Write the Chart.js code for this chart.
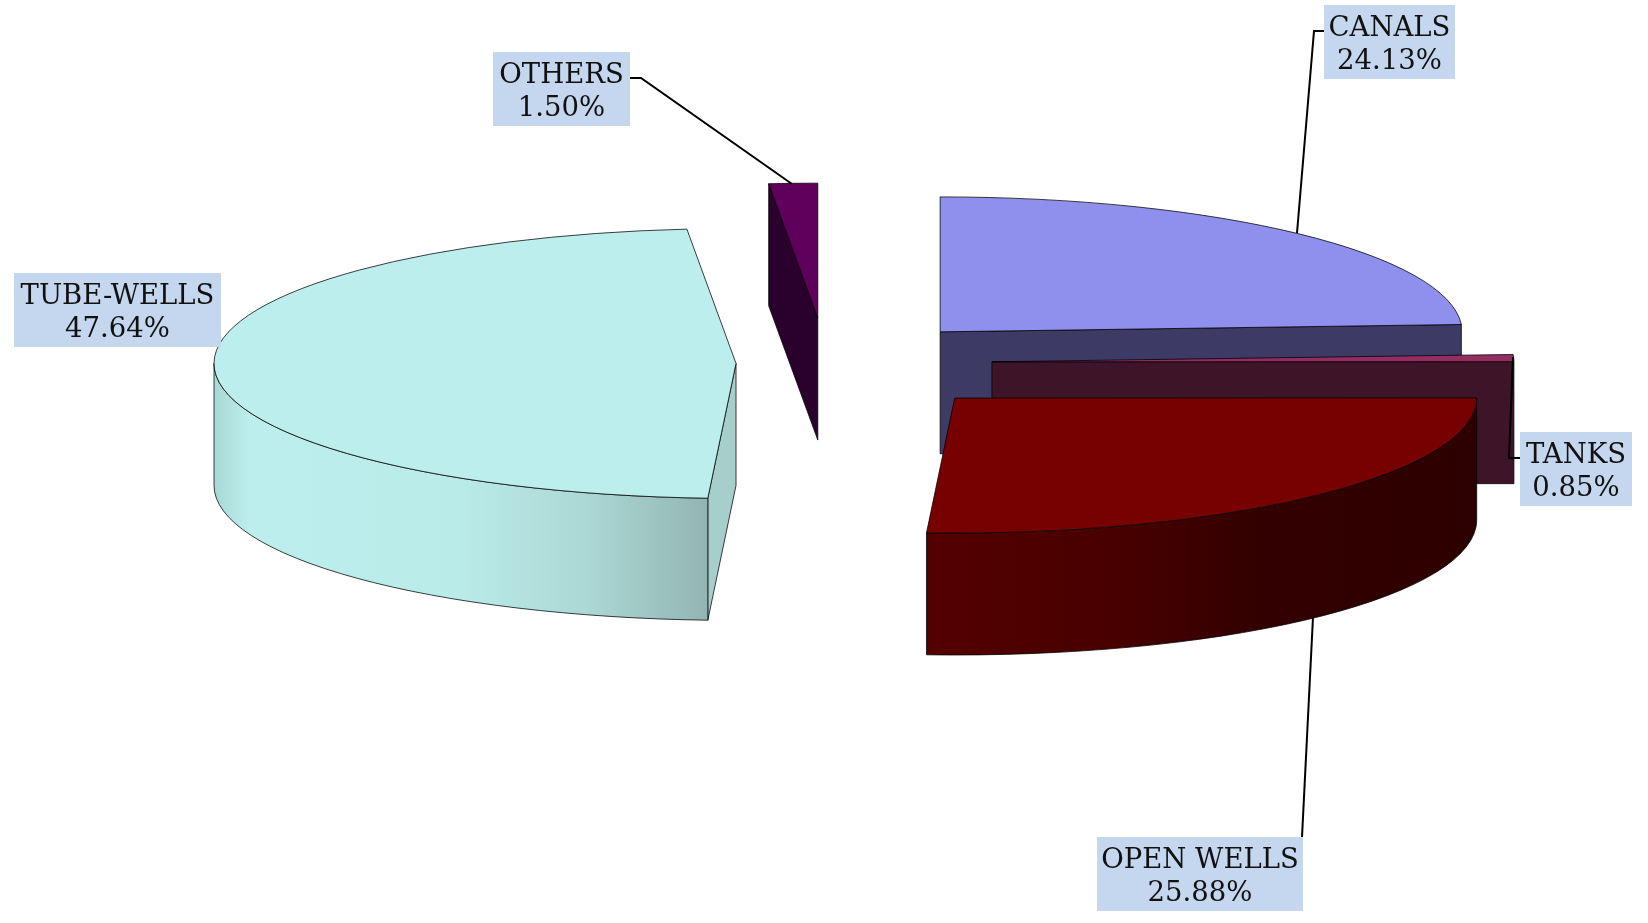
<!DOCTYPE html>
<html>
<head>
<meta charset="utf-8">
<title>Sources of irrigation</title>
<script src="https://cdn.jsdelivr.net/npm/chart.js@4/dist/chart.umd.js"></script>
<style>
  html, body { margin: 0; padding: 0; background: #fff; }
  canvas { display: block; }
</style>
</head>
<body>
<canvas id="pieChart" width="1648" height="923"></canvas>
<script>
// Data
const categories = ["CANALS", "TANKS", "OPEN WELLS", "TUBE-WELLS", "OTHERS"];
const shares = [24.13, 0.85, 25.88, 47.64, 1.5];

// Slice styles
const explode = [166, 166, 187, 90, 174];
const topColors = ["#8f8fee", "#952e60", "#770000", "#bceeed", "#5e005c"];
const faceColors = ["#3d3a66", "#3e1428", "#4a0000", "#a6cfcc", "#2a002c"];
const wallStops = [
  null,
  null,
  [[0, "#540000"], [0.35, "#480000"], [0.6, "#330000"], [1, "#2d0000"]],
  [[0, "#a9d8d6"], [0.07, "#bbeeec"], [0.5, "#b9ebe9"], [0.75, "#acd8d5"], [1, "#92b5b2"]],
  null
];

// Pie geometry
const pieRadius = 522;
const squash = 0.2585;
const depth = 122;

// Label boxes and leader lines
const labelBoxes = [
  { x: 1324, y: 5, w: 131, h: 74 },
  { x: 1520, y: 432, w: 112, h: 74 },
  { x: 1097, y: 837, w: 206, h: 74 },
  { x: 14, y: 273, w: 207, h: 74 },
  { x: 493, y: 52, w: 137, h: 74 }
];
const leaders = [
  [[1324, 31], [1314, 31], [1297, 233]],
  [[1520, 458], [1509, 458], [1513, 357]],
  [[1302, 837], [1313, 617]],
  [],
  [[630, 78], [641, 78], [792, 184]]
];

// Side faces are not part of a pie, so they are added around each arc
function drawSlice(ctx, arc, i) {
  const { startAngle, endAngle, outerRadius: r } = arc;
  const mid = (startAngle + endAngle) / 2;
  const cx = arc.x + Math.cos(mid) * explode[i];
  const cy = arc.y + Math.sin(mid) * explode[i] * squash;
  const ry = r * squash;
  const px = a => cx + Math.cos(a) * r;
  const py = a => cy + Math.sin(a) * ry;

  ctx.lineWidth = 1;
  ctx.strokeStyle = "rgba(0,0,0,0.75)";

  // Cut faces which look towards the viewer
  const cutFace = a => {
    ctx.beginPath();
    ctx.moveTo(cx, cy);
    ctx.lineTo(px(a), py(a));
    ctx.lineTo(px(a), py(a) + depth);
    ctx.lineTo(cx, cy + depth);
    ctx.closePath();
    ctx.fillStyle = faceColors[i];
    ctx.fill();
    ctx.stroke();
  };
  if (-Math.cos(startAngle) > 0.001) cutFace(startAngle);
  if (Math.cos(endAngle) > 0.001) cutFace(endAngle);

  // Outer wall, front half only
  const a1 = Math.max(startAngle, 0);
  const a2 = Math.min(endAngle, Math.PI);
  if (a2 > a1 && wallStops[i]) {
    const left = a2 >= Math.PI ? cx - r : px(a2);
    const right = a1 <= 0 ? cx + r : px(a1);
    const grad = ctx.createLinearGradient(left, 0, right, 0);
    wallStops[i].forEach(s => grad.addColorStop(s[0], s[1]));
    ctx.beginPath();
    ctx.ellipse(cx, cy, r, ry, 0, a1, a2);
    ctx.ellipse(cx, cy + depth, r, ry, 0, a2, a1, true);
    ctx.closePath();
    ctx.fillStyle = grad;
    ctx.fill();
    ctx.stroke();
  }

  // Top face: the library's arc, flattened and moved out
  ctx.save();
  ctx.translate(cx - arc.x, cy);
  ctx.scale(1, squash);
  ctx.translate(0, -arc.y);
  arc.draw(ctx);
  ctx.restore();

  ctx.beginPath();
  ctx.moveTo(cx, cy);
  ctx.ellipse(cx, cy, r, ry, 0, startAngle, endAngle);
  ctx.closePath();
  ctx.stroke();
}

const pie3d = {
  id: "pie3d",
  beforeDatasetDraw(chart) {
    const ctx = chart.ctx;
    chart.getDatasetMeta(0).data.forEach((arc, i) => {
      ctx.save();
      drawSlice(ctx, arc, i);
      ctx.restore();
    });
    return false;
  },
  afterDatasetsDraw(chart) {
    const ctx = chart.ctx;
    ctx.save();
    // Leader lines
    ctx.strokeStyle = "#000";
    ctx.lineWidth = 2;
    leaders.forEach(line => {
      if (!line.length) return;
      ctx.beginPath();
      line.forEach((p, n) => (n ? ctx.lineTo(p[0], p[1]) : ctx.moveTo(p[0], p[1])));
      ctx.stroke();
    });
    // Labels
    ctx.font = "27.5px 'DejaVu Serif', serif";
    ctx.textAlign = "center";
    ctx.textBaseline = "alphabetic";
    categories.forEach((name, i) => {
      const box = labelBoxes[i];
      ctx.fillStyle = "#c5d7ef";
      ctx.fillRect(box.x, box.y, box.w, box.h);
      ctx.fillStyle = "#111";
      ctx.fillText(name, box.x + box.w / 2, box.y + 31);
      ctx.fillText(shares[i].toFixed(2) + "%", box.x + box.w / 2, box.y + 64);
    });
    ctx.restore();
  }
};

new Chart(document.getElementById("pieChart"), {
  type: "pie",
  data: {
    labels: categories,
    datasets: [
      {
        data: shares,
        backgroundColor: topColors,
        borderWidth: 0,
        radius: pieRadius
      }
    ]
  },
  options: {
    responsive: false,
    animation: false,
    layout: { padding: { left: 4, bottom: 197 } },
    plugins: {
      legend: { display: false },
      tooltip: { enabled: false }
    }
  },
  plugins: [pie3d]
});
</script>
</body>
</html>
